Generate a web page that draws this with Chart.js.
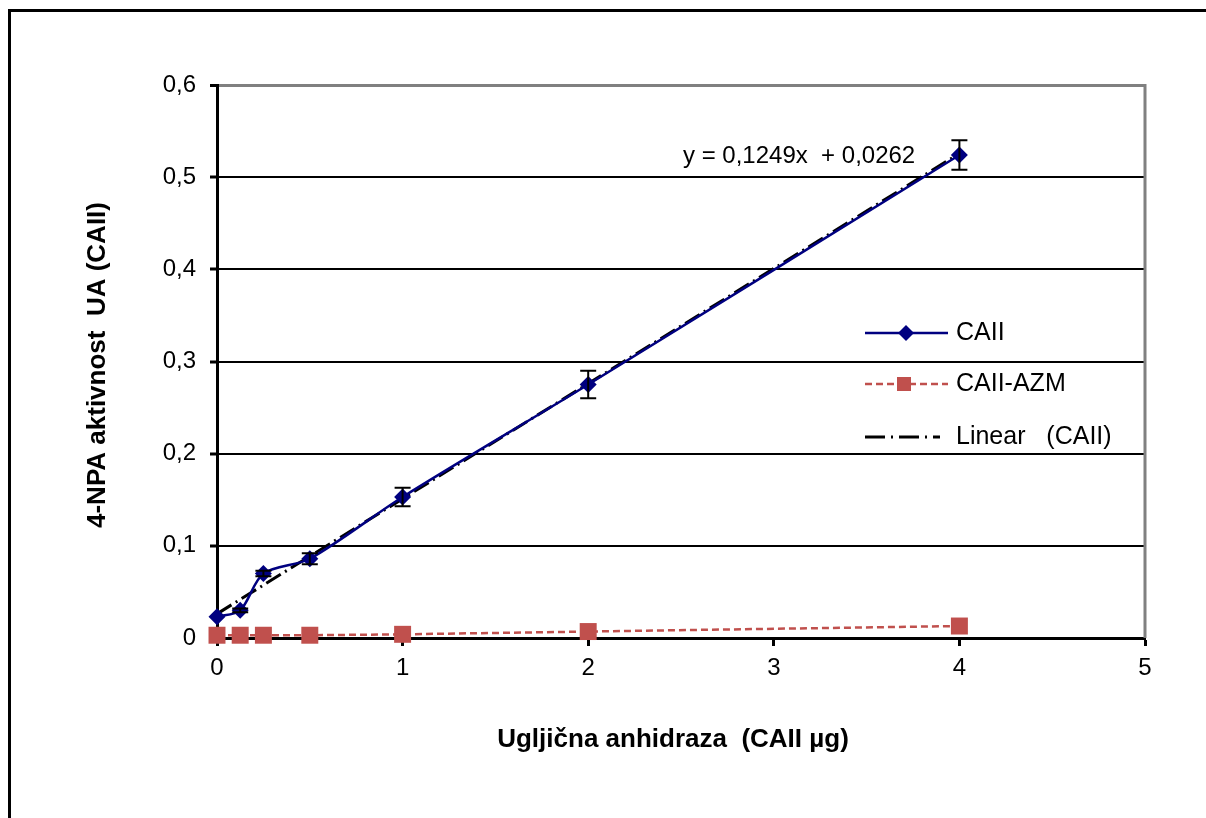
<!DOCTYPE html>
<html>
<head>
<meta charset="utf-8">
<script src="https://cdn.jsdelivr.net/npm/chart.js@4"></script>
<style>
  html, body { margin: 0; padding: 0; background: #fff; }
  #wrap { width: 1206px; height: 818px; }
</style>
</head>
<body>
<div id="wrap"><canvas id="enzChart" width="1206" height="818"></canvas></div>
<script>
// values
const concentrations = [0, 0.125, 0.25, 0.5, 1, 2, 4];
const caii = [0.023, 0.030, 0.070, 0.086, 0.153, 0.275, 0.524];
const caiiErr = [0, 0.002, 0.003, 0.006, 0.010, 0.015, 0.016];
const caiiAzm = [0.003, 0.003, 0.003, 0.003, 0.004, 0.007, 0.013];
const trendX = [0, 4];
const trendY = [0.0262, 0.5258];
const yTicks = [0, 0.1, 0.2, 0.3, 0.4, 0.5, 0.6];
const xTicks = [0, 1, 2, 3, 4, 5];
const seriesNames = ['CAII', 'CAII-AZM', 'Linear   (CAII)'];
const equationText = 'y = 0,1249x  + 0,0262';
const xTitle = 'Ugljična anhidraza  (CAII µg)';
const yTitle = '4-NPA aktivnost  UA (CAII)';

const FONT = '"Liberation Sans", Arial, sans-serif';
const BLUE = '#000080';
const RED = '#c0504d';

const pts = (xs, ys) => xs.map((x, i) => ({ x: x, y: ys[i] }));

// error bars, frame, titles, equation, legend
const extras = {
  id: 'extras',
  afterDatasetsDraw(chart) {
    const ctx = chart.ctx;
    const xs = chart.scales.x, ys = chart.scales.y;
    ctx.save();
    ctx.strokeStyle = '#000';
    ctx.lineWidth = 2;
    concentrations.forEach((c, i) => {
      if (!caiiErr[i]) return;
      const px = xs.getPixelForValue(c);
      const top = ys.getPixelForValue(caii[i] + caiiErr[i]);
      const bot = ys.getPixelForValue(caii[i] - caiiErr[i]);
      ctx.beginPath();
      ctx.moveTo(px, top); ctx.lineTo(px, bot);
      ctx.moveTo(px - 8, top); ctx.lineTo(px + 8, top);
      ctx.moveTo(px - 8, bot); ctx.lineTo(px + 8, bot);
      ctx.stroke();
    });
    ctx.restore();
  },
  afterDraw(chart) {
    const ctx = chart.ctx;
    const a = chart.chartArea;
    ctx.save();
    // gray right border of plot area
    ctx.strokeStyle = '#808080';
    ctx.lineWidth = 3;
    ctx.beginPath();
    ctx.moveTo(a.right, a.top - 1);
    ctx.lineTo(a.right, a.bottom);
    ctx.stroke();

    // outer frame
    ctx.strokeStyle = '#000';
    ctx.lineWidth = 3;
    ctx.strokeRect(9.5, 10.5, 1300, 900);

    // axis titles
    ctx.fillStyle = '#000';
    ctx.font = 'bold 26px ' + FONT;
    ctx.textAlign = 'center';
    ctx.textBaseline = 'middle';
    ctx.fillText(xTitle, 673, 740);
    ctx.save();
    ctx.translate(98, 365);
    ctx.rotate(-Math.PI / 2);
    ctx.fillText(yTitle, 0, 0);
    ctx.restore();

    // regression equation
    ctx.font = '24px ' + FONT;
    ctx.textAlign = 'left';
    ctx.fillText(equationText, 683, 156);

    // legend
    const lx0 = 865, lx1 = 948, tx = 956;
    const rows = [333, 384, 437];
    ctx.font = '25px ' + FONT;
    ctx.fillText(seriesNames[0], tx, rows[0]);
    ctx.fillText(seriesNames[1], tx, rows[1]);
    ctx.fillText(seriesNames[2], tx, rows[2]);

    ctx.lineWidth = 2.5;
    ctx.strokeStyle = BLUE;
    ctx.beginPath(); ctx.moveTo(lx0, rows[0]); ctx.lineTo(lx1, rows[0]); ctx.stroke();
    ctx.fillStyle = BLUE;
    ctx.beginPath();
    ctx.moveTo(906, rows[0] - 8); ctx.lineTo(914, rows[0]);
    ctx.lineTo(906, rows[0] + 8); ctx.lineTo(898, rows[0]);
    ctx.closePath(); ctx.fill();

    ctx.strokeStyle = RED;
    ctx.setLineDash([7, 4]);
    ctx.beginPath(); ctx.moveTo(lx0, rows[1]); ctx.lineTo(lx1, rows[1]); ctx.stroke();
    ctx.setLineDash([]);
    ctx.fillStyle = RED;
    ctx.fillRect(897, rows[1] - 7, 14, 14);

    ctx.strokeStyle = '#000';
    ctx.lineWidth = 3;
    ctx.setLineDash([20, 6, 2, 6]);
    ctx.beginPath(); ctx.moveTo(lx0, rows[2]); ctx.lineTo(940, rows[2]); ctx.stroke();
    ctx.restore();
  }
};

const chart = new Chart(document.getElementById('enzChart').getContext('2d'), {
  type: 'line',
  data: {
    datasets: [
      {
        label: seriesNames[0],
        data: pts(concentrations, caii),
        borderColor: BLUE,
        backgroundColor: BLUE,
        borderWidth: 2.5,
        tension: 0.3,
        pointStyle: 'rectRot',
        pointRadius: 8.5,
        pointBorderWidth: 0,
        clip: false,
        fill: false
      },
      {
        label: seriesNames[1],
        data: pts(concentrations, caiiAzm),
        borderColor: RED,
        backgroundColor: RED,
        borderWidth: 2.5,
        borderDash: [7, 4],
        tension: 0,
        pointStyle: 'rect',
        pointRadius: 12,
        pointBorderWidth: 0,
        clip: false,
        fill: false
      },
      {
        label: seriesNames[2],
        data: pts(trendX, trendY),
        borderColor: '#000',
        borderWidth: 3,
        borderDash: [17, 5, 2, 5],
        pointRadius: 0,
        fill: false
      }
    ]
  },
  options: {
    responsive: false,
    animation: false,
    events: [],
    layout: { padding: { left: 0, top: 85, right: 61, bottom: 10 } },
    scales: {
      x: {
        type: 'linear',
        min: 0,
        max: 5,
        afterBuildTicks: s => { s.ticks = xTicks.map(v => ({ value: v })); },
        afterFit: s => { s.height = 170; },
        ticks: {
          color: '#000',
          font: { family: FONT, size: 24 },
          padding: 8,
          maxRotation: 0
        },
        grid: { drawOnChartArea: false, tickLength: 8, tickColor: '#000', tickWidth: 3 },
        border: { color: '#000', width: 3 }
      },
      y: {
        min: 0,
        max: 0.6,
        afterBuildTicks: s => { s.ticks = yTicks.map(v => ({ value: v })); },
        afterFit: s => { s.width = 217; },
        ticks: {
          color: '#000',
          font: { family: FONT, size: 24 },
          padding: 14,
          callback: v => v === 0 ? '0' : v.toFixed(1).replace('.', ',')
        },
        grid: {
          color: c => (c.tick && Math.abs(c.tick.value - 0.6) < 1e-9) ? '#808080' : '#000',
          lineWidth: c => (c.tick && Math.abs(c.tick.value - 0.6) < 1e-9) ? 3 : 2,
          tickLength: 7,
          tickColor: '#000',
          tickWidth: 3
        },
        border: { color: '#000', width: 3 }
      }
    },
    plugins: {
      legend: { display: false },
      tooltip: { enabled: false }
    }
  },
  plugins: [extras]
});
</script>
</body>
</html>
